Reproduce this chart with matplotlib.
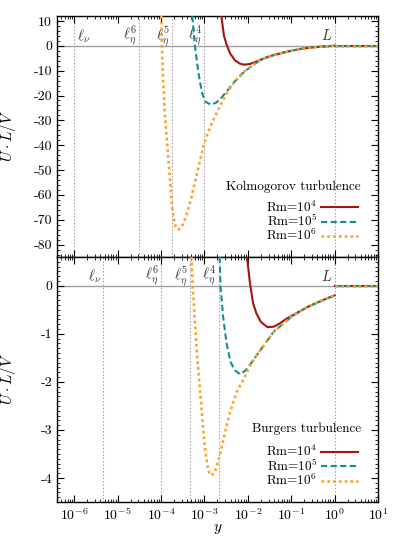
import numpy as np
import matplotlib
matplotlib.use("Agg")
import matplotlib.pyplot as plt
from matplotlib.ticker import LogLocator, MultipleLocator, NullFormatter, FuncFormatter
from matplotlib.lines import Line2D

plt.rcParams['font.family'] = ['cmr10', 'DejaVu Serif']
plt.rcParams['mathtext.fontset'] = 'cm'
plt.rcParams['axes.unicode_minus'] = False
plt.rcParams['axes.formatter.use_mathtext'] = True
plt.rcParams['font.size'] = 10

# ---------------- data (x given as log10 y) ----------------
# Kolmogorov
k_red_lx = [-2.61, -2.55, -2.49, -2.41, -2.30, -2.18, -2.08, -1.95, -1.84, -1.70,
            -1.50, -1.20, -1.00, -0.80, -0.50, -0.20, 0.0]
k_red_v = [12, 4, 0.5, -3, -5.8, -7.2, -7.6, -7.3, -6.6, -5.6,
           -4.2, -2.8, -2.0, -1.3, -0.6, -0.2, 0.0]
k_teal_lx = [-3.28, -3.22, -3.14, -3.06, -2.98, -2.85, -2.72, -2.60, -2.45, -2.30,
             -2.10, -1.90, -1.70, -1.50, -1.20, -1.00, -0.80, -0.50, -0.20, 0.0]
k_teal_v = [12, 0, -10.7, -18.7, -22.5, -23.7, -22.8, -20.7, -17.5, -14.3,
            -10.7, -8, -5.6, -4.2, -2.8, -2.0, -1.3, -0.6, -0.2, 0.0]
k_orng_lx = [-3.99, -3.98, -3.95, -3.91, -3.85, -3.79, -3.74, -3.67, -3.60, -3.50,
             -3.41, -3.30, -3.22, -3.10, -3.00, -2.90, -2.80, -2.60, -2.45, -2.30,
             -2.10, -1.90, -1.70, -1.50, -1.20, -1.00, -0.80, -0.50, -0.20, 0.0]
k_orng_v = [12, 0, -14.7, -28, -41.3, -54.7, -66, -72.5, -74, -72,
            -68, -61, -55, -46, -39, -34, -30, -22.7, -18, -14.5,
            -10.5, -8, -5.6, -4.2, -2.8, -2.0, -1.3, -0.6, -0.2, 0.0]
k_marks = [1e-6, 10**-4.5, 10**-3.75, 1e-3, 1.0]
mark_labels = [r'$\ell_\nu$', r'$\ell_\eta^6$', r'$\ell_\eta^5$', r'$\ell_\eta^4$', r'$L$']

# Burgers
b_red_lx = [-2.02, -1.95, -1.88, -1.80, -1.70, -1.55, -1.40, -1.26, -1.10, -1.00,
            -0.80, -0.60, -0.40, -0.20, 0.0]
b_red_v = [0.6, 0.05, -0.36, -0.58, -0.75, -0.86, -0.85, -0.78, -0.68, -0.63,
           -0.53, -0.43, -0.35, -0.27, -0.20]
b_teal_lx = [-2.65, -2.63, -2.57, -2.49, -2.40, -2.30, -2.18, -2.05, -1.95, -1.80,
             -1.60, -1.40, -1.20, -1.00, -0.80, -0.60, -0.40, -0.20, 0.0]
b_teal_v = [0.6, 0, -0.64, -1.2, -1.58, -1.76, -1.84, -1.76, -1.64, -1.45,
            -1.2, -0.95, -0.8, -0.65, -0.53, -0.43, -0.35, -0.27, -0.20]
b_orng_lx = [-3.30, -3.27, -3.22, -3.17, -3.10, -3.04, -2.98, -2.91, -2.84, -2.76,
             -2.68, -2.60, -2.50, -2.40, -2.25, -2.10, -1.95, -1.80, -1.60, -1.40,
             -1.20, -1.00, -0.80, -0.60, -0.40, -0.20, 0.0]
b_orng_v = [0.6, 0.0, -0.74, -1.43, -2.2, -2.85, -3.45, -3.85, -3.95, -3.88,
            -3.65, -3.35, -2.95, -2.6, -2.2, -1.95, -1.66, -1.45, -1.2, -0.95,
            -0.8, -0.65, -0.53, -0.43, -0.35, -0.27, -0.20]
b_marks = [10**-5.33, 1e-4, 10**-3.33, 10**-2.67, 1.0]

tail_x = [1.0, 10.0]
tail_v = [0.0, 0.0]

labels = [r'Rm=$10^4$', r'Rm=$10^5$', r'Rm=$10^6$']
titles = ['Kolmogorov turbulence', 'Burgers turbulence']

colors = ['#a11515', '#10908f', '#ffa028']
styles = [dict(ls='-', lw=1.5), dict(ls=(0, (3, 1.6)), lw=1.5), dict(ls=(0, (1, 1.2)), lw=1.9)]

W, H = 399, 543
fig = plt.figure(figsize=(W / 100, H / 100), dpi=100)
L, R = 57 / W, 378 / W
ax1 = fig.add_axes([L, 1 - 257 / H, R - L, (257 - 16) / H])
ax2 = fig.add_axes([L, 1 - 502 / H, R - L, (502 - 257) / H])

panels = [
    (ax1, [(k_red_lx, k_red_v), (k_teal_lx, k_teal_v), (k_orng_lx, k_orng_v)], k_marks, (-85, 12), 10, 2, 4.0, True),
    (ax2, [(b_red_lx, b_red_v), (b_teal_lx, b_teal_v), (b_orng_lx, b_orng_v)], b_marks, (-4.5, 0.6), 1, 0.1, 0.2, False),
]

yfmt = FuncFormatter(lambda v, p: f"{v:g}" if abs(v) > 1e-9 else "0")

for i, (ax, curves, marks, ylim, maj, mnr, ylab, first_right) in enumerate(panels):
    ax.set_xscale('log')
    ax.set_xlim(4e-7, 10)
    ax.set_ylim(*ylim)
    ax.axhline(0, color='#a0a0a0', lw=1.0, zorder=1)
    for j, (m, lab) in enumerate(zip(marks, mark_labels)):
        ax.axvline(m, color='#999999', lw=0.8, ls=(0, (1.2, 1.8)), zorder=1)
        if j == 0 and first_right:
            ax.text(m * 1.15, ylab, lab, ha='left', va='center', fontsize=10.5, color='#333333')
        else:
            ax.text(m / 1.1, ylab, lab, ha='right', va='center', fontsize=10.5, color='#333333')
    handles = []
    for (lx, v), c, st, lab in zip(curves, colors, styles, labels):
        ax.plot(10 ** np.array(lx), v, color=c, zorder=3, **st)
        ax.plot(tail_x, tail_v, color=c, zorder=3, **st)
        handles.append(Line2D([], [], color=c, **st))
    ax.legend(handles, labels, loc='lower right', bbox_to_anchor=(0.955, 0.035),
              frameon=False, markerfirst=False, handlelength=2.8, handletextpad=0.3,
              labelspacing=-0.1, borderaxespad=0, fontsize=9.5)
    ax.text(0.947, 0.29 if i == 0 else 0.298, titles[i], transform=ax.transAxes,
            ha='right', va='center', fontsize=9.5)
    ax.xaxis.set_major_locator(LogLocator(base=10, numticks=20))
    ax.xaxis.set_minor_locator(LogLocator(base=10, subs=np.arange(2, 10), numticks=20))
    ax.xaxis.set_minor_formatter(NullFormatter())
    ax.yaxis.set_major_locator(MultipleLocator(maj))
    ax.yaxis.set_minor_locator(MultipleLocator(mnr))
    ax.yaxis.set_major_formatter(yfmt)
    ax.tick_params(which='both', direction='in', top=True, right=True, labelsize=10)
    ax.tick_params(which='major', length=5, width=0.8)
    ax.tick_params(which='minor', length=2.5, width=0.6)
    for sp in ax.spines.values():
        sp.set_linewidth(1.0)
    ax.set_ylabel(r'$U\cdot L/V$', fontsize=11)
    ax.yaxis.set_label_coords(-0.12, 0.5)

ax1.tick_params(labelbottom=False)
ax2.set_xlabel(r'$y$', fontsize=11)
ax2.xaxis.set_label_coords(0.5, -0.08)

fig.savefig('out.png', dpi=100)
